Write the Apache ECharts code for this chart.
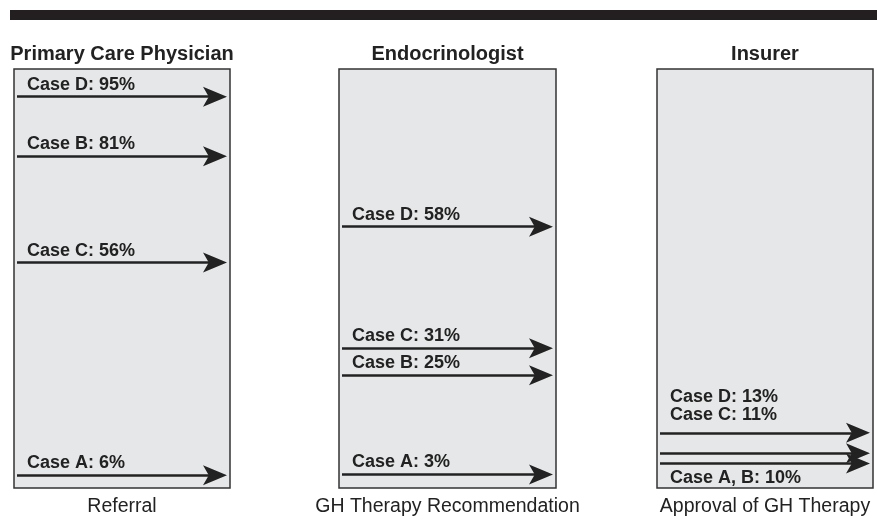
<!DOCTYPE html>
<html lang="en">
<head>
    <meta charset="UTF-8">
    <title>GH therapy decision steps</title>
    <script src="https://cdn.jsdelivr.net/npm/echarts@6/dist/echarts.min.js"></script>
    <style>
        html, body { margin: 0; padding: 0; background: #fff; }
        #main { width: 877px; height: 522px; }
    </style>
</head>
<body>
<div id="main"></div>
<script>
    // panel headings
    var panelTitles = ['Primary Care Physician', 'Endocrinologist', 'Insurer'];
    var panelSubtitles = ['Referral', 'GH Therapy Recommendation', 'Approval of GH Therapy'];

    // cases and percentages per panel
    var pcpCases = ['Case D', 'Case B', 'Case C', 'Case A'];
    var pcpValues = [95, 81, 56, 6];
    var endoCases = ['Case D', 'Case C', 'Case B', 'Case A'];
    var endoValues = [58, 31, 25, 3];
    var insCases = ['Case D', 'Case C', 'Case A, B'];
    var insValues = [13, 11, 10];

    var font = '"Liberation Sans", Arial, Helvetica, sans-serif';
    var ink = '#222';
    // arrow head pointing up, lines series turns it along the line
    var arrowPath = 'path://M50,0 L100,100 L50,76 L0,100 Z';

    // panel boxes (the drawing is not to scale, so each panel has its own y range)
    var panels = [
        {left: 14, width: 216, yMin: 3, yMax: 101.5},
        {left: 339, width: 217, yMin: 0, yMax: 93},
        {left: 657, width: 216, yMin: 7.6, yMax: 48.6}
    ];

    function buildSeries(i, cases, values) {
        var p = panels[i];
        var x0 = 3 / p.width;
        var x1 = (p.width - 15) / p.width;
        var data = [];
        for (var k = 0; k < cases.length; k++) {
            data.push({
                name: cases[k],
                value: values[k],
                coords: [[x0, values[k]], [x1, values[k]]]
            });
        }
        return {
            type: 'lines',
            coordinateSystem: 'cartesian2d',
            xAxisIndex: i * 2,
            yAxisIndex: i,
            silent: true,
            symbol: ['none', arrowPath],
            symbolSize: [1, [20, 24]],
            lineStyle: {color: ink, width: 2.5, opacity: 1, curveness: 0},
            label: {
                show: true,
                position: 'insideStartTop',
                distance: [10, 3],
                color: ink,
                fontFamily: font,
                fontWeight: 'bold',
                fontSize: 18,
                formatter: function (prm) {
                    return prm.name + ': ' + prm.value + '%';
                }
            },
            data: data
        };
    }

    var series = [
        buildSeries(0, pcpCases, pcpValues),
        buildSeries(1, endoCases, endoValues),
        buildSeries(2, insCases, insValues)
    ];
    // insurer labels are stacked above / below the arrow bundle
    series[2].data[0].label = {distance: [10, 27]};
    series[2].data[1].label = {distance: [10, 29]};
    series[2].data[2].label = {position: 'insideStartBottom', distance: [10, 6]};

    var grids = [], xAxes = [], yAxes = [];
    for (var i = 0; i < panels.length; i++) {
        grids.push({
            left: panels[i].left, top: 69, width: panels[i].width, height: 424,
            show: true, backgroundColor: '#e6e7e8', borderColor: '#333', borderWidth: 1.5
        });
        var hidden = {
            axisLine: {show: false}, axisTick: {show: false},
            axisLabel: {show: false}, splitLine: {show: false}
        };
        xAxes.push(Object.assign({
            gridIndex: i, type: 'value', min: 0, max: 1, position: 'bottom',
            name: panelSubtitles[i], nameLocation: 'middle', nameGap: 9,
            nameTextStyle: {fontSize: 19.5, color: ink, fontFamily: font}
        }, hidden));
        xAxes.push(Object.assign({
            gridIndex: i, type: 'value', min: 0, max: 1, position: 'top',
            name: panelTitles[i], nameLocation: 'middle', nameGap: 5,
            nameTextStyle: {fontSize: 20, fontWeight: 'bold', color: ink, fontFamily: font}
        }, hidden));
        yAxes.push({gridIndex: i, type: 'value', min: panels[i].yMin, max: panels[i].yMax, show: false});
    }

    var myChart = echarts.init(document.getElementById('main'));
    var option = {
        animation: false,
        backgroundColor: '#fff',
        graphic: [{
            type: 'rect', left: 10, top: 10,
            shape: {width: 867, height: 10},
            style: {fill: '#231f20'}
        }],
        grid: grids,
        xAxis: xAxes,
        yAxis: yAxes,
        series: series
    };
    myChart.setOption(option);
</script>
</body>
</html>
